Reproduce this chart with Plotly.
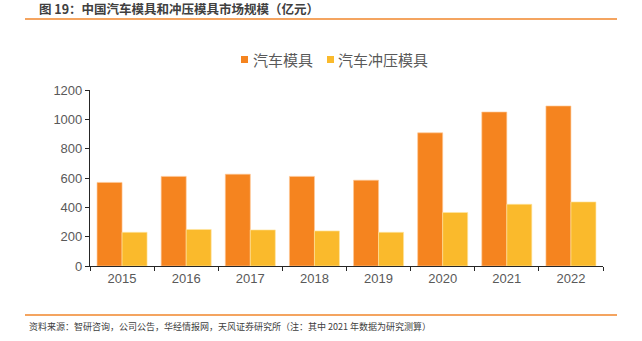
import plotly.graph_objects as go

years = ["2015", "2016", "2017", "2018", "2019", "2020", "2021", "2022"]
auto_mold = [570, 611, 626, 611, 585, 908, 1050, 1091]
stamping_mold = [230, 249, 246, 239, 230, 365, 421, 437]
series_names = ["汽车模具", "汽车冲压模具"]
colors = ["#F5841F", "#FABA2C"]
title_text = "图 19：中国汽车模具和冲压模具市场规模（亿元）"
source_text = "资料来源：智研咨询，公司公告，华经情报网，天风证券研究所（注：其中 2021 年数据为研究测算）"

W, H = 642, 341
L, R, T, B = 90, 39, 90, 75
PW, PH = W - L - R, H - T - B
font_family = "Noto Sans CJK SC, Noto Sans, sans-serif"
num_font = "Liberation Sans, Arial, sans-serif"


def px(xp):
    return (xp - L) / PW


def py(yp):
    return (H - B - yp) / PH


fig = go.Figure()
fig.add_trace(go.Bar(x=years, y=auto_mold, name=series_names[0], showlegend=False,
                     marker=dict(color=colors[0], line=dict(color="rgba(255,200,150,0.8)", width=0.8))))
fig.add_trace(go.Bar(x=years, y=stamping_mold, name=series_names[1], showlegend=False,
                     marker=dict(color=colors[1], line=dict(color="rgba(255,230,160,0.8)", width=0.8))))

fig.update_layout(
    width=W, height=H,
    margin=dict(l=L, r=R, t=T, b=B),
    paper_bgcolor="white", plot_bgcolor="white",
    barmode="group", bargap=0.22, bargroupgap=0,
    font=dict(family=font_family, color="#595959"),
    showlegend=False,
    xaxis=dict(type="category", showline=True, linecolor="#262626", linewidth=1.2,
               ticks="outside", tickson="boundaries", ticklen=4, tickcolor="#262626",
               tickfont=dict(size=13, color="#595959", family=num_font),
               showgrid=False, zeroline=False),
    yaxis=dict(range=[0, 1200], dtick=200, showline=True, linecolor="#262626", linewidth=1.2,
               ticks="outside", ticklen=4, tickcolor="#262626",
               tickfont=dict(size=13, color="#595959", family=num_font),
               showgrid=False, zeroline=False),
)

# legend (squares + labels)
legend_sq_x = [241, 327]
legend_txt_x = [251, 336]
for name, c, sx, tx in zip(series_names, colors, legend_sq_x, legend_txt_x):
    fig.add_shape(type="rect", xref="paper", yref="paper",
                  x0=px(sx), x1=px(sx + 7), y0=py(63), y1=py(56),
                  fillcolor=c, line=dict(width=0))
    fig.add_annotation(text=name, xref="paper", yref="paper", x=px(tx), y=py(59),
                       xanchor="left", yanchor="middle", showarrow=False,
                       font=dict(size=15, color="#595959", family=font_family))

fig.add_annotation(text="<b>" + title_text + "</b>", xref="paper", yref="paper",
                   x=px(37), y=py(8), xanchor="left", yanchor="middle",
                   showarrow=False, font=dict(size=12.5, color="#404040", family=font_family))
fig.add_annotation(text=source_text, xref="paper", yref="paper",
                   x=px(27), y=py(326), xanchor="left", yanchor="middle",
                   showarrow=False, font=dict(size=9, color="#404040", family=font_family))

for yy in (19, 315):
    fig.add_shape(type="line", xref="paper", yref="paper",
                  x0=px(25), x1=px(617), y0=py(yy), y1=py(yy),
                  line=dict(color="#F4A460", width=2))

fig.write_html("out.html")
